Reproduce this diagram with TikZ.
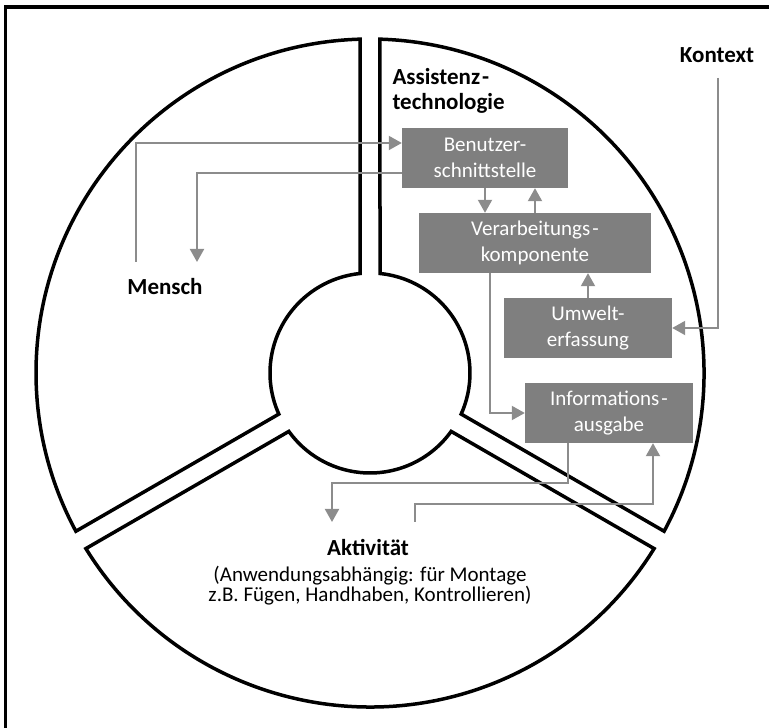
\documentclass[tikz,border=0pt]{standalone}
\usepackage{fontspec}
\setmainfont{Carlito}
\usetikzlibrary{arrows.meta,calc}

\definecolor{boxgray}{HTML}{7F7F7F}
\definecolor{linegray}{HTML}{8C8C8C}

\begin{document}
\begin{tikzpicture}[x=1pt,y=1pt,
  outline/.style={line width=3.5pt, line join=miter},
  block/.style={fill=boxgray, text=white, minimum height=60pt, inner sep=0pt,
    align=center, font=\fontsize{21}{26}\selectfont},
  flow/.style={draw=linegray, line width=2pt,
    -{Triangle[length=13pt,width=14pt]}},
  tag/.style={font=\fontsize{23}{25}\selectfont\bfseries}
]
\useasboundingbox (0,0) rectangle (769,728);

% frame
\draw[line width=3.5pt] (5.5,0) -- (5.5,721) -- (769,721);

% ring split into three sectors
\coordinate (C) at (370,355);
\def\Ro{334}
\def\Ri{100}
\def\dO{1.716}
\def\dI{5.739}
\newcommand\ringsector[2]{%
  \draw[outline] ($(C)+({#1+\dO}:\Ro)$)
    arc[start angle={#1+\dO}, end angle={#2-\dO}, radius=\Ro]
    -- ($(C)+({#2-\dI}:\Ri)$)
    arc[start angle={#2-\dI}, end angle={#1+\dI}, radius=\Ri]
    -- cycle;}
\ringsector{-30}{90}
\ringsector{90}{210}
\ringsector{210}{330}

% components
\node[block, minimum width=166pt] (bs) at (485,570) {Benutzer-\\schnittstelle};
\node[block, minimum width=232pt] (vk) at (535,485) {Verarbeitungs\kern2pt-\\komponente};
\node[block, minimum width=168pt] (ue) at (588,400) {Umwelt-\\erfassung};
\node[block, minimum width=168pt] (ia) at (609,315) {Informations\kern2pt-\\ausgabe};

% labels
\node[tag] (mensch) at (165,441) {Mensch};
\node[tag, anchor=west, align=left] (assist) at (389,637.5) {Assistenz\kern2pt-\\technologie};
\node[tag] (kontext) at (717,673) {Kontext};
\node[tag] (akt) at (368,180) {Aktivität};
\node[font=\fontsize{21}{20}\selectfont, align=center] (aktdesc) at (370,142)
  {(Anwendungsabhängig: für Montage\\z.B. Fügen, Handhaben, Kontrollieren)};

% connector ends
\coordinate (m1) at (136,466);
\coordinate (m2) at (197,466);
\coordinate (k1) at (718,650);
\coordinate (a1) at (332,206);
\coordinate (a2) at (415,206);

% connectors
\draw[flow] (m1) |- ($(bs.west)+(0,15)$);
\draw[flow] ($(bs.west)+(0,-15)$) -| (m2);
\draw[flow] (bs.south) -- (bs.south |- vk.north);
\draw[flow] (vk.north) -- (vk.north |- bs.south);
\draw[flow] (ue.north) -- (ue.north |- vk.south);
\draw[flow] (k1) |- (ue.east);
\draw[flow] ($(vk.south)+(-45,0)$) |- (ia.west);
\draw[flow] ($(ia.south)+(-41,0)$) |- ($(a1)+(0,39)$) -- (a1);
\draw[flow] (a2) -- ++(0,18) -| ($(ia.south)+(44,0)$);
\end{tikzpicture}
\end{document}
